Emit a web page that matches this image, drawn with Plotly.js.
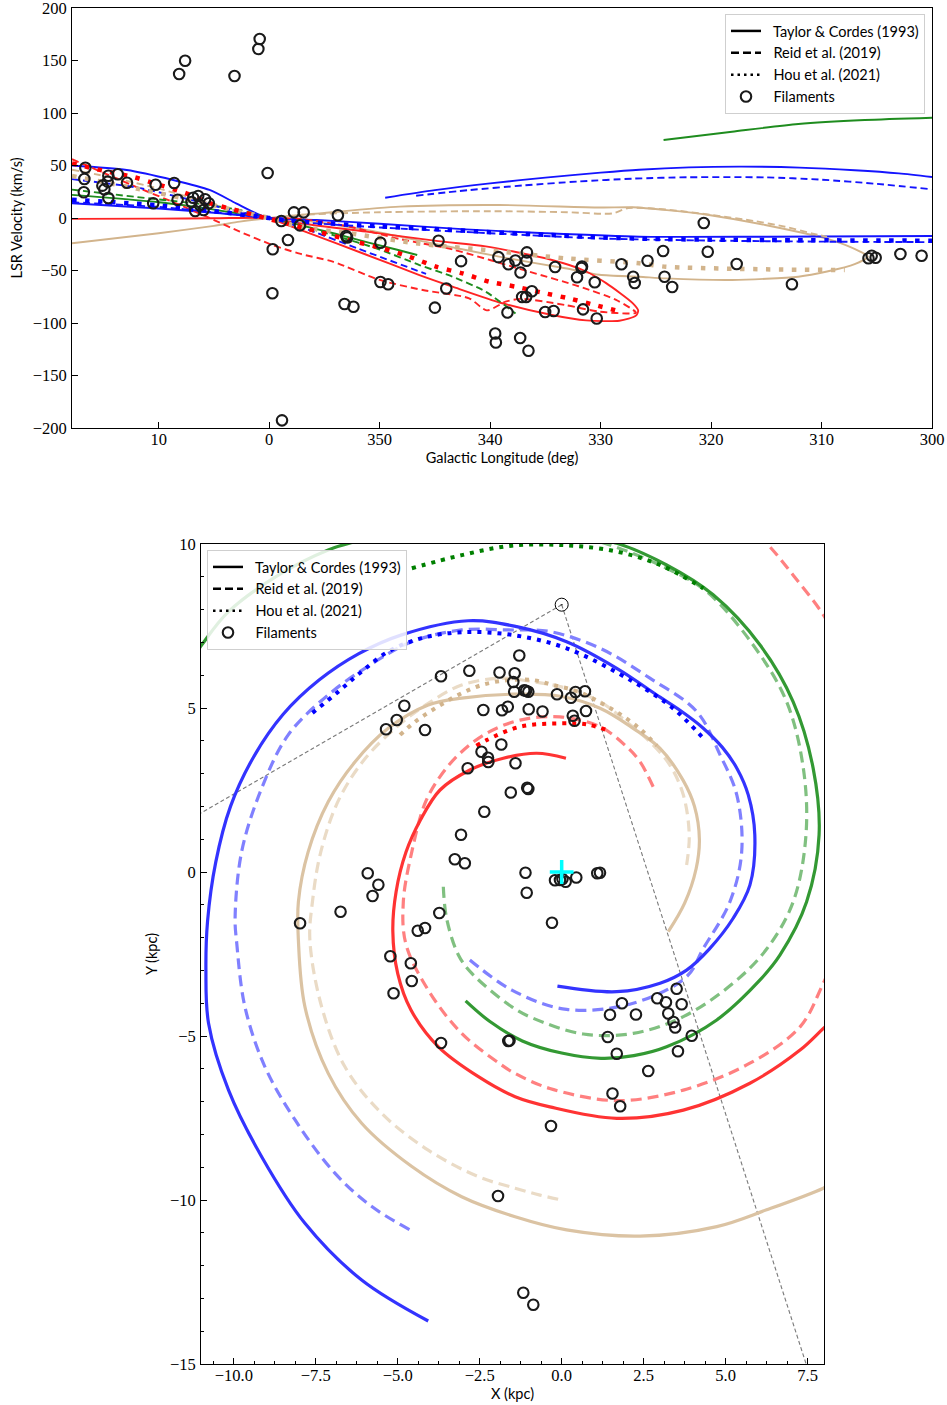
<!DOCTYPE html>
<html><head><meta charset="utf-8">
<script src="https://cdn.plot.ly/plotly-3.0.1.min.js"></script>
<style>html,body{margin:0;padding:0;background:#fff}#chart{width:947px;height:1405px}</style>
</head><body><div id="chart"></div>
<script>
// ---------------- TOP PANEL: l-v diagram ----------------
// Filaments: Galactic longitude (deg, 0-360) and LSR velocity (km/s)
const filLon = [0.86,0.98,7.61,8.15,3.14,16.64,16.73,16.78,14.56,13.71,14.62,15.10,14.92,14.56,12.87,10.28,10.50,8.60,8.29,6.88,6.43,5.80,5.47,7.03,6.70,5.94,6.28,0.14,358.90,357.76,356.88,357.22,358.30,359.68,359.71,358.84,353.78,353.03,352.95,349.93,349.93,349.23,353.18,352.37,344.67,342.63,343.97,345.00,339.25,338.34,337.71,336.67,336.71,337.25,336.22,337.10,336.74,338.43,339.54,339.48,337.28,336.53,334.12,335.02,334.25,332.13,331.73,331.68,331.59,330.53,330.35,328.11,327.05,326.91,325.75,324.34,324.21,323.52,320.66,320.30,317.68,312.68,305.75,305.46,305.10,302.86,300.94];
const filVel = [170.5,161,149.8,137.1,135.2,47.9,37.1,24.5,40.3,41.6,34.6,30.8,27.3,19.0,33.6,31.7,14.0,33.3,17.4,19.3,21.0,17.8,14.0,15.2,6.7,7.6,12.4,42.9,-2.9,5.4,5.4,-7.0,-21.0,-29.8,-71.7,-192.7,2.6,-17.1,-18.6,-23.5,-61.0,-63.1,-81.9,-84.5,-21.6,-41.1,-67.1,-85.4,-37.3,-44.0,-40.5,-32.7,-40.7,-51.9,-69.8,-75.2,-75.2,-90.0,-110.0,-118.6,-114.3,-126.4,-46.7,-89.5,-88.6,-56.4,-47.6,-46.2,-87.0,-61.2,-95.7,-44.0,-55.9,-61.9,-40.7,-31.4,-55.9,-65.7,-4.8,-32.1,-43.8,-63.1,-38.4,-35.9,-37.8,-34.3,-35.9];

// Spiral-arm tracks in (l, v); l signed (negative = 360 + l)
const lvBlueTCnear = [[17.85,50],[12.9,45.7],[8.7,36.2],[5.4,26.7],[3.0,14],[0.86,2.9],[0,0],[-4.3,-1.9],[-10,-5.5],[-17.8,-10.8],[-25,-14.5],[-33.5,-17.8],[-45,-17.8],[-60,-17.1]];
const lvBlueTCfar = [[17.85,14],[10,9],[5,5],[0,0]];
const lvBlueTCouter = [[-10.5,19.3],[-15,26.5],[-20,33],[-25,38.5],[-30,43.2],[-33.5,46],[-38,48.2],[-42.8,48.9],[-48,48],[-53,45.5],[-57,42.5],[-60,39]];
const lvBlueReidOuter = [[-13.3,21.2],[-18,26.5],[-23,31],[-28,34.8],[-33,37.5],[-38,38.8],[-44.9,38.7],[-50,36.5],[-55,32.5],[-60,27.3]];
const lvBlueReidNear = [[17.85,37],[12,29],[7,17],[3,6.5],[0,0],[-2.76,-8.3],[-8,-29],[-14.2,-53.3]];
const lvBlueReidLow = [[17.85,15],[10,10.5],[5,5.5],[0,0],[-3,-4],[-10,-9],[-20,-14.5],[-30,-19.5],[-40,-21.5],[-50,-22.5],[-60,-23]];
const lvBlueHou = [[17.85,17.5],[10,12],[5,6.5],[0,0],[-3,-3.5],[-10,-8],[-15,-10.5],[-20,-13.5],[-25,-16],[-30,-18.5],[-35,-20],[-45,-21],[-60,-21.6]];
const lvGreenTCnear = [[17.85,22],[10,15],[5,8],[2,3],[0,0],[-2.76,-6.7],[-6,-15],[-9,-23.5],[-11.5,-30],[-13.4,-35.2]];
const lvGreenTCfar = [[-35.7,74.3],[-41.9,82.2],[-47.9,89.5],[-53.9,93.3],[-60,95.5]];
const lvGreenReid = [[17.85,27],[12,20],[6,13],[2.66,7.6],[0,0],[-2,-5],[-6,-17],[-10,-30],[-13.6,-44.8],[-16.6,-55.9],[-19.6,-70.2],[-22.3,-91]];
const lvRedTC = [[17.85,-0.8],[10,-0.6],[5,-0.3],[0,0],[-2.76,-5],[-8.8,-13],[-15.3,-22],[-19.6,-27],[-25.6,-40],[-28.5,-50],[-30.5,-62],[-32.9,-81],[-33.4,-88],[-33.2,-93],[-31.7,-97.8],[-28.7,-97.5],[-25.6,-92.4],[-21.1,-81.2],[-16.6,-65.4],[-13.6,-54.3],[-8.8,-35],[-2.76,-11],[0,0]];
const lvRedReid = [[17.85,56],[12,29.5],[8,12],[5.67,1.2],[2.66,-13],[-0.3,-25.7],[-2.76,-34],[-5.76,-41.6],[-10,-59],[-13.9,-68.6],[-18.1,-76.5],[-19.7,-88],[-21.4,-79.7],[-22.8,-77],[-26.8,-82.9],[-29.9,-89.2],[-33.2,-90.2],[-31.4,-78],[-28,-65],[-23.5,-51],[-16.6,-30],[-11.8,-20],[-7.3,-8.3],[-3,-1],[0,0]];
const lvRedHou = [[17.85,52],[15,45],[12.2,38.8],[10.9,34.6],[7.5,23.5],[5.3,14],[2.5,6],[0,-1],[-3,-9],[-7.8,-22.5],[-10.3,-29],[-12.7,-36.8],[-15.1,-46.4],[-17.5,-52.7],[-19.9,-60.6],[-22.3,-65.4],[-24.7,-71.1],[-27.1,-76.5],[-29.5,-82.9],[-31.8,-89.2]];
const lvTanTC = [[17.85,-24.1],[10,-14.5],[5,-7.5],[2.66,-3.5],[0,0],[-2.76,2.9],[-4.6,4.4],[-11.8,10.8],[-20.8,12.4],[-29.9,10],[-32.9,10.2],[-36,7.5],[-39.8,2.9],[-44.9,-6.7],[-50.9,-21],[-53.5,-32],[-54.2,-36.8],[-53,-44],[-50.5,-51],[-47.9,-55.9],[-41.9,-59],[-35.9,-57.5],[-33.5,-55.9],[-29.9,-54],[-26.8,-47.9],[-20.8,-36.8],[-14.8,-24.1],[-8.8,-11.4],[-2.76,-1.9],[0,0]];
const lvTanReid = [[17.85,46],[14,38],[10,28],[6,16],[3,7],[0,0],[-2.76,2.9],[-10,5.5],[-20,6.5],[-27,5.5],[-31.1,4.4],[-32.5,9.5],[-36,8],[-40,3],[-44,-3],[-46.7,-8.3],[-49.1,-14.6],[-50.5,-18]];
const lvTanHou = [[17.85,40],[12,28],[7,17],[3,7],[0,0],[-2.76,-8.3],[-7.3,-14.6],[-13.3,-24.1],[-20.2,-31.1],[-26.8,-38.4],[-33.5,-43.1],[-35.9,-46.4],[-45,-48.9],[-52.1,-49.5]];

const lonTickVals = [10,0,-10,-20,-30,-40,-50,-60];
const lonTickText = ['10','0','350','340','330','320','310','300'];
const lonRange = [17.85,-60];

// ---------------- BOTTOM PANEL: face-on view ----------------
const filX = [-1.293,-3.680,-2.817,-1.896,-1.433,-1.476,-1.448,-1.143,-1.018,-0.143,0.284,0.421,0.710,-4.799,-5.030,-5.357,-4.168,-2.390,-1.820,-1.643,-1.006,-0.585,0.741,0.338,0.390,-2.445,-2.247,-2.238,-1.841,-2.866,-1.409,-1.552,-1.052,-1.018,-2.360,-3.070,-3.259,-2.954,-5.915,-5.591,-5.768,-6.744,-7.979,-3.732,-4.390,-4.168,-1.104,-1.067,-0.296,-0.204,-0.052,0.122,0.445,1.085,1.168,-5.226,-4.601,-4.573,-5.128,-3.680,-1.628,-1.591,3.506,1.838,1.473,2.265,2.915,3.180,3.659,3.250,3.409,3.463,3.966,3.546,1.405,1.680,2.640,1.549,1.784,-0.326,-1.942,-1.171,-0.866,-1.088,0.024];
const filY = [6.601,5.966,6.137,6.082,6.061,5.793,5.497,5.543,5.494,5.421,5.314,5.488,5.509,5.070,4.634,4.351,4.329,4.939,4.933,5.040,4.960,4.893,4.909,4.762,4.610,3.665,3.482,3.354,3.887,3.162,3.314,2.424,2.570,2.530,1.838,1.137,0.390,0.265,-0.037,-0.387,-0.732,-1.210,-1.561,-1.250,-1.793,-1.707,-0.021,-0.631,-1.546,-0.253,-0.244,-0.296,-0.168,-0.040,-0.021,-2.570,-2.784,-3.323,-3.695,-5.213,-5.152,-5.137,-3.561,-4.000,-4.354,-4.345,-3.851,-3.970,-4.034,-4.314,-4.573,-4.741,-4.994,-5.466,-5.030,-5.543,-6.067,-6.753,-7.140,-7.744,-9.878,-12.826,-13.192,5.524,-0.213];

const xyBlueTC = [[-0.13,-3.48],[1.68,-3.65],[3.0,-3.39],[3.81,-2.99],[4.5,-2.35],[5.23,-1.41],[5.74,-0.40],[5.89,1.13],[5.69,2.35],[5.35,3.15],[4.9,3.8],[4.3,4.4],[3.65,4.9],[3.0,5.33],[1.68,6.21],[0.15,7.02],[-1.37,7.48],[-2.85,7.66],[-4.88,7.23],[-6.2,6.65],[-7.4,5.85],[-8.5,4.8],[-9.4,3.5],[-10.1,2.0],[-10.55,0.3],[-10.8,-1.5],[-10.85,-3.0],[-10.77,-4.61],[-10.16,-6.65],[-9.15,-8.68],[-7.83,-10.71],[-6.10,-12.44],[-4.07,-13.69]];
const xyGreenTC = [[-2.93,-3.93],[-2.2,-4.55],[-1.2,-5.15],[0,-5.52],[1.2,-5.68],[2.2,-5.6],[3.20,-5.33],[4.73,-4.51],[6.05,-3.29],[6.66,-2.53],[7.47,-0.91],[7.85,1.13],[7.67,3.16],[7.06,5.19],[6.05,6.92],[4.62,8.45],[3.20,9.36],[1.68,10.02],[-1.5,10.6],[-4,10.6],[-6.30,10.07],[-7.12,9.82],[-8.64,9.05],[-10.16,7.94],[-10.98,6.92],[-11.6,6.0]];
const xyRedTC = [[0.13,3.47],[-0.76,3.62],[-1.78,3.47],[-2.80,3.11],[-3.71,2.50],[-4.3,1.6],[-4.75,0.6],[-5.05,-0.6],[-5.15,-1.8],[-5.0,-3.1],[-4.6,-4.2],[-3.76,-5.33],[-2.54,-6.24],[-1.42,-6.85],[-0.36,-7.16],[1.68,-7.51],[3.71,-7.26],[5.74,-6.44],[7.27,-5.43],[7.98,-4.77],[8.6,-4.2]];
const xyTanTC = [[3.25,-1.82],[3.75,-0.95],[4.1,0.1],[4.2,1.0],[4.05,2.0],[3.7,2.8],[3.0,3.77],[2.18,4.38],[1.17,4.99],[0,5.35],[-1.5,5.42],[-3.05,5.30],[-4.07,5.09],[-5.29,4.38],[-6.30,3.36],[-7.12,2.14],[-7.73,0.62],[-8.03,-0.91],[-8.03,-2.07],[-7.83,-4.11],[-7.12,-6.14],[-6.10,-7.66],[-4.57,-8.98],[-3.05,-9.90],[-1.42,-10.51],[0.15,-10.91],[2.39,-11.10],[4.73,-10.81],[6.25,-10.30],[7.98,-9.64],[8.6,-9.3]];
const xyBlueReid = [[-2.80,-2.68],[-1.52,-3.60],[0.15,-4.19],[2.18,-4.0],[3.81,-3.19],[4.32,-2.33],[5.13,-0.91],[5.49,0.62],[5.34,2.35],[4.83,3.57],[4.12,4.89],[2.69,5.91],[1.17,6.82],[-0.36,7.33],[-1.63,7.38],[-3.05,7.38],[-4.57,7.02],[-5.69,6.41],[-7.12,5.40],[-8.34,4.18],[-9.15,2.55],[-9.76,0.62],[-9.96,-1.41],[-9.91,-2.17],[-9.66,-4.11],[-9.05,-5.94],[-8.13,-7.56],[-6.91,-9.19],[-5.79,-10.20],[-4.63,-10.91]];
const xyGreenReid = [[-3.61,-0.45],[-3.51,-1.41],[-3.15,-2.53],[-2.74,-3.09],[-1.52,-4.11],[-0.87,-4.46],[0.66,-4.94],[2.18,-4.92],[3.71,-4.41],[5.23,-3.39],[6.25,-2.35],[7.06,-0.91],[7.45,1.13],[7.37,3.16],[6.86,5.19],[5.84,6.92],[4.42,8.55],[3.20,9.26],[1.47,9.97],[-0.5,10.5]];
const xyRedReid = [[2.79,2.60],[2.39,3.36],[1.98,3.82],[1.17,4.43],[-0.05,4.73],[-1.27,4.63],[-2.29,4.23],[-3.10,3.62],[-3.71,2.91],[-4.17,2.09],[-4.57,0.62],[-4.83,-0.91],[-4.75,-2.2],[-4.07,-3.60],[-3.05,-4.92],[-1.88,-5.85],[-1.42,-6.14],[-0.36,-6.60],[1.68,-6.97],[3.71,-6.65],[5.74,-5.83],[7.27,-4.72],[7.98,-3.39],[8.6,-2.0],[null,null],[5.6,10.6],[6.25,10.02],[7.06,9.05],[7.98,7.84],[8.5,6.9]];
const xyTanReid = [[3.81,0.21],[3.89,1.13],[3.71,2.35],[3.30,3.26],[2.69,3.97],[1.98,4.58],[1.17,5.19],[0.15,5.60],[-0.87,5.80],[-1.88,5.91],[-3.05,5.70],[-4.07,5.14],[-5.0,4.45],[-6.0,3.45],[-6.8,2.2],[-7.35,0.6],[-7.6,-0.9],[-7.68,-2.07],[-7.32,-4.11],[-6.61,-5.94],[-5.49,-7.36],[-4.07,-8.48],[-2.54,-9.29],[-1.42,-9.64],[-0.66,-9.85],[0,-10.0]];
const xyBlueHou = [[-7.6,4.85],[-6.81,5.50],[-6.10,6.11],[-5.29,6.72],[-4.27,7.13],[-3.05,7.31],[-1.52,7.23],[0.15,6.82],[2.18,5.80],[3.40,4.99],[4.37,4.02]];
const xyGreenHou = [[-4.57,9.26],[-3.05,9.66],[-1.52,9.95],[0.15,9.96],[1.68,9.77],[3.0,9.36],[4.32,8.65]];
const xyRedHou = [[-2.6,3.85],[-2.29,4.02],[-1.27,4.43],[-0.05,4.53],[0.76,4.50],[1.37,4.33]];
const xyTanHou = [[-4.93,4.18],[-4.47,4.58],[-3.86,4.99],[-3.15,5.40],[-2.44,5.70],[-1.63,5.85],[-0.87,5.85],[-0.26,5.70],[0.5,5.5],[1.2,5.15],[1.8,4.8],[2.4,4.35],[2.9,3.85]];

const sunPos = [0, 8.15];
const gcPos = [0, 0];
const wedgeLon = [17.85, -60];   // longitude limits of the l-v panel (deg)
const wedgeLen = 26;             // kpc

// ---------------- helpers ----------------
const wrap = l => (l > 180 ? l - 360 : l);
const traces = [];
function addLine(pts, color, width, dash, ax, isLV) {
  traces.push({
    type: 'scatter', mode: 'lines',
    x: pts.map(p => p[0] === null ? null : (isLV ? wrap(p[0]) : p[0])),
    y: pts.map(p => p[1]),
    line: {color: color, width: width, dash: dash, shape: 'spline', smoothing: isLV ? 0.7 : 1.0},
    xaxis: ax === 2 ? 'x2' : 'x', yaxis: ax === 2 ? 'y2' : 'y',
    showlegend: false, hoverinfo: 'skip'
  });
}

// top panel colours / styles
const T = {blue:'#1414ff', green:'#1e8c1e', red:'#ff2424', tan:'#d2b48c'};
const TD = {blue:'#0000ff', red:'#ff0000', tan:'#d2b48c'};
const tSolidW = 1.9, tDash = '7px,4px', tDotW = 4.5, tDot = '4.5px,8.5px';

addLine(lvTanTC, T.tan, tSolidW, 'solid', 1, true);
addLine(lvRedTC, T.red, tSolidW, 'solid', 1, true);
addLine(lvGreenTCnear, T.green, tSolidW, 'solid', 1, true);
addLine(lvGreenTCfar, T.green, tSolidW, 'solid', 1, true);
addLine(lvBlueTCnear, T.blue, tSolidW, 'solid', 1, true);
addLine(lvBlueTCfar, T.blue, tSolidW, 'solid', 1, true);
addLine(lvBlueTCouter, T.blue, tSolidW, 'solid', 1, true);

addLine(lvTanReid, T.tan, tSolidW, tDash, 1, true);
addLine(lvRedReid, T.red, tSolidW, tDash, 1, true);
addLine(lvGreenReid, T.green, tSolidW, tDash, 1, true);
addLine(lvBlueReidNear, T.blue, tSolidW, tDash, 1, true);
addLine(lvBlueReidLow, T.blue, tSolidW, tDash, 1, true);
addLine(lvBlueReidOuter, T.blue, tSolidW, tDash, 1, true);

addLine(lvTanHou, TD.tan, tDotW, tDot, 1, true);
addLine(lvRedHou, TD.red, tDotW, tDot, 1, true);
addLine(lvBlueHou, TD.blue, tDotW, tDot, 1, true);

traces.push({
  type:'scatter', mode:'markers', x: filLon.map(wrap), y: filVel,
  marker:{symbol:'circle-open', size:10.5, color:'#1a1a1a', line:{width:2.1, color:'#1a1a1a'}},
  xaxis:'x', yaxis:'y', showlegend:false, hoverinfo:'skip'
});

// bottom panel
const S = {blue:'#3333ff', green:'#339933', red:'#ff3333', tan:'#dbc3a3'};
const D = {blue:'#8080ff', green:'#80c080', red:'#ff8080', tan:'#eadbc6'};
const P = {blue:'#0000ff', green:'#008000', red:'#ff0000', tan:'#d2b48c'};
const bW = 3.2, bDash = '11px,6px', bDotW = 4, bDot = '4px,6px';

// wedge lines from the Sun
const wedgeX = [], wedgeY = [];
wedgeLon.forEach(l => {
  const r = l * Math.PI / 180;
  wedgeX.push(sunPos[0], sunPos[0] + wedgeLen * Math.sin(r), null);
  wedgeY.push(sunPos[1], sunPos[1] - wedgeLen * Math.cos(r), null);
});
traces.push({type:'scatter', mode:'lines', x:wedgeX, y:wedgeY, xaxis:'x2', yaxis:'y2',
  line:{color:'#7a7a7a', width:1.1, dash:'4px,2.5px'}, showlegend:false, hoverinfo:'skip'});

addLine(xyTanReid, D.tan, bW, bDash, 2);
addLine(xyRedReid, D.red, bW, bDash, 2);
addLine(xyGreenReid, D.green, bW, bDash, 2);
addLine(xyBlueReid, D.blue, bW, bDash, 2);

addLine(xyTanTC, S.tan, bW, 'solid', 2);
addLine(xyRedTC, S.red, bW, 'solid', 2);
addLine(xyGreenTC, S.green, bW, 'solid', 2);
addLine(xyBlueTC, S.blue, bW, 'solid', 2);

addLine(xyTanHou, P.tan, bDotW, bDot, 2);
addLine(xyRedHou, P.red, bDotW, bDot, 2);
addLine(xyGreenHou, P.green, bDotW, bDot, 2);
addLine(xyBlueHou, P.blue, bDotW, bDot, 2);

traces.push({
  type:'scatter', mode:'markers', x: filX, y: filY,
  marker:{symbol:'circle-open', size:10.5, color:'#1a1a1a', line:{width:2.1, color:'#1a1a1a'}},
  xaxis:'x2', yaxis:'y2', showlegend:false, hoverinfo:'skip'
});
traces.push({type:'scatter', mode:'markers', x:[sunPos[0]], y:[sunPos[1]], xaxis:'x2', yaxis:'y2',
  marker:{symbol:'circle-open-dot', size:13, color:'#000', line:{width:1, color:'#000'}}, showlegend:false, hoverinfo:'skip'});
traces.push({type:'scatter', mode:'markers', x:[gcPos[0]], y:[gcPos[1]], xaxis:'x2', yaxis:'y2',
  marker:{symbol:'cross-thin-open', size:17, color:'#00ffff', line:{width:3.5, color:'#00ffff'}}, showlegend:false, hoverinfo:'skip'});

// legend entries (both panels)
const legendNames = ['Taylor & Cordes (1993)', 'Reid et al. (2019)', 'Hou et al. (2021)', 'Filaments'];
const legendDash = ['solid', '8px,4px', '2.5px,4px'];
const pad = '\u00a0\u00a0';
['legend','legend2'].forEach(lg => {
  legendNames.forEach((nm, i) => {
    const tr = {type:'scatter', x:[null], y:[null], name: pad + nm, legend:lg, showlegend:true,
      xaxis: lg === 'legend' ? 'x' : 'x2', yaxis: lg === 'legend' ? 'y' : 'y2'};
    if (i < 3) { tr.mode = 'lines'; tr.line = {color:'#000', width: 2.5, dash: legendDash[i]}; }
    else { tr.mode = 'markers'; tr.marker = {symbol:'circle-open', size:10.5, color:'#1a1a1a', line:{width:2.1}}; }
    traces.push(tr);
  });
});

const W = 947, H = 1405;
const tickFont = {family:'Liberation Serif, DejaVu Serif, serif', size:16.5, color:'#000'};
const labFont = {family:'Lato, DejaVu Sans, sans-serif', size:14.5, color:'#000'};
const axBase = {showgrid:false, zeroline:false, showline:true, linecolor:'#000', linewidth:1, mirror:true,
  ticks:'inside', ticklen:6, tickwidth:1, tickcolor:'#000', tickfont:tickFont, automargin:false,
  ticklabeloverflow:'allow'};

const layout = {
  width: W, height: H, margin:{l:0, r:0, t:0, b:0},
  paper_bgcolor:'#fff', plot_bgcolor:'#fff', showlegend:true,
  xaxis: Object.assign({}, axBase, {domain:[72/W, 932/W], range:lonRange, anchor:'y',
    tickmode:'array', tickvals:lonTickVals, ticktext:lonTickText, ticklabelstandoff:-4,
    title:{text:'Galactic Longitude (deg)', font:labFont, standoff:4}}),
  yaxis: Object.assign({}, axBase, {domain:[1-428/H, 1-8/H], range:[-200,200], anchor:'x',
    tickmode:'linear', tick0:0, dtick:50, ticklabelstandoff:1,
    title:{text:'LSR Velocity (km/s)', font:labFont, standoff:6}}),
  xaxis2: Object.assign({}, axBase, {domain:[201/W, 824/W], range:[-11,8], anchor:'y2',
    tickmode:'linear', tick0:0, dtick:2.5, tickformat:'.1f', ticklabelstandoff:-4,
    minor:{tick0:0, dtick:0.625, ticks:'inside', ticklen:3, tickcolor:'#000'},
    title:{text:'X (kpc)', font:labFont, standoff:2}}),
  yaxis2: Object.assign({}, axBase, {domain:[1-1364/H, 1-544/H], range:[-15,10], anchor:'x2',
    tickmode:'linear', tick0:0, dtick:5, ticklabelstandoff:1,
    minor:{tick0:0, dtick:1, ticks:'inside', ticklen:3, tickcolor:'#000'},
    title:{text:'Y (kpc)', font:labFont, standoff:8}}),
  legend: {x:925/W, xanchor:'right', y:1-14/H, yanchor:'top', bgcolor:'rgba(255,255,255,0.85)',
    bordercolor:'#cfcfcf', borderwidth:1, font:labFont, itemwidth:30, tracegroupgap:0},
  legend2: {x:207/W, xanchor:'left', y:1-550/H, yanchor:'top', bgcolor:'rgba(255,255,255,0.85)',
    bordercolor:'#cfcfcf', borderwidth:1, font:labFont, itemwidth:30, tracegroupgap:0}
};

Plotly.newPlot('chart', traces, layout, {staticPlot:true, displayModeBar:false});
</script></body></html>
